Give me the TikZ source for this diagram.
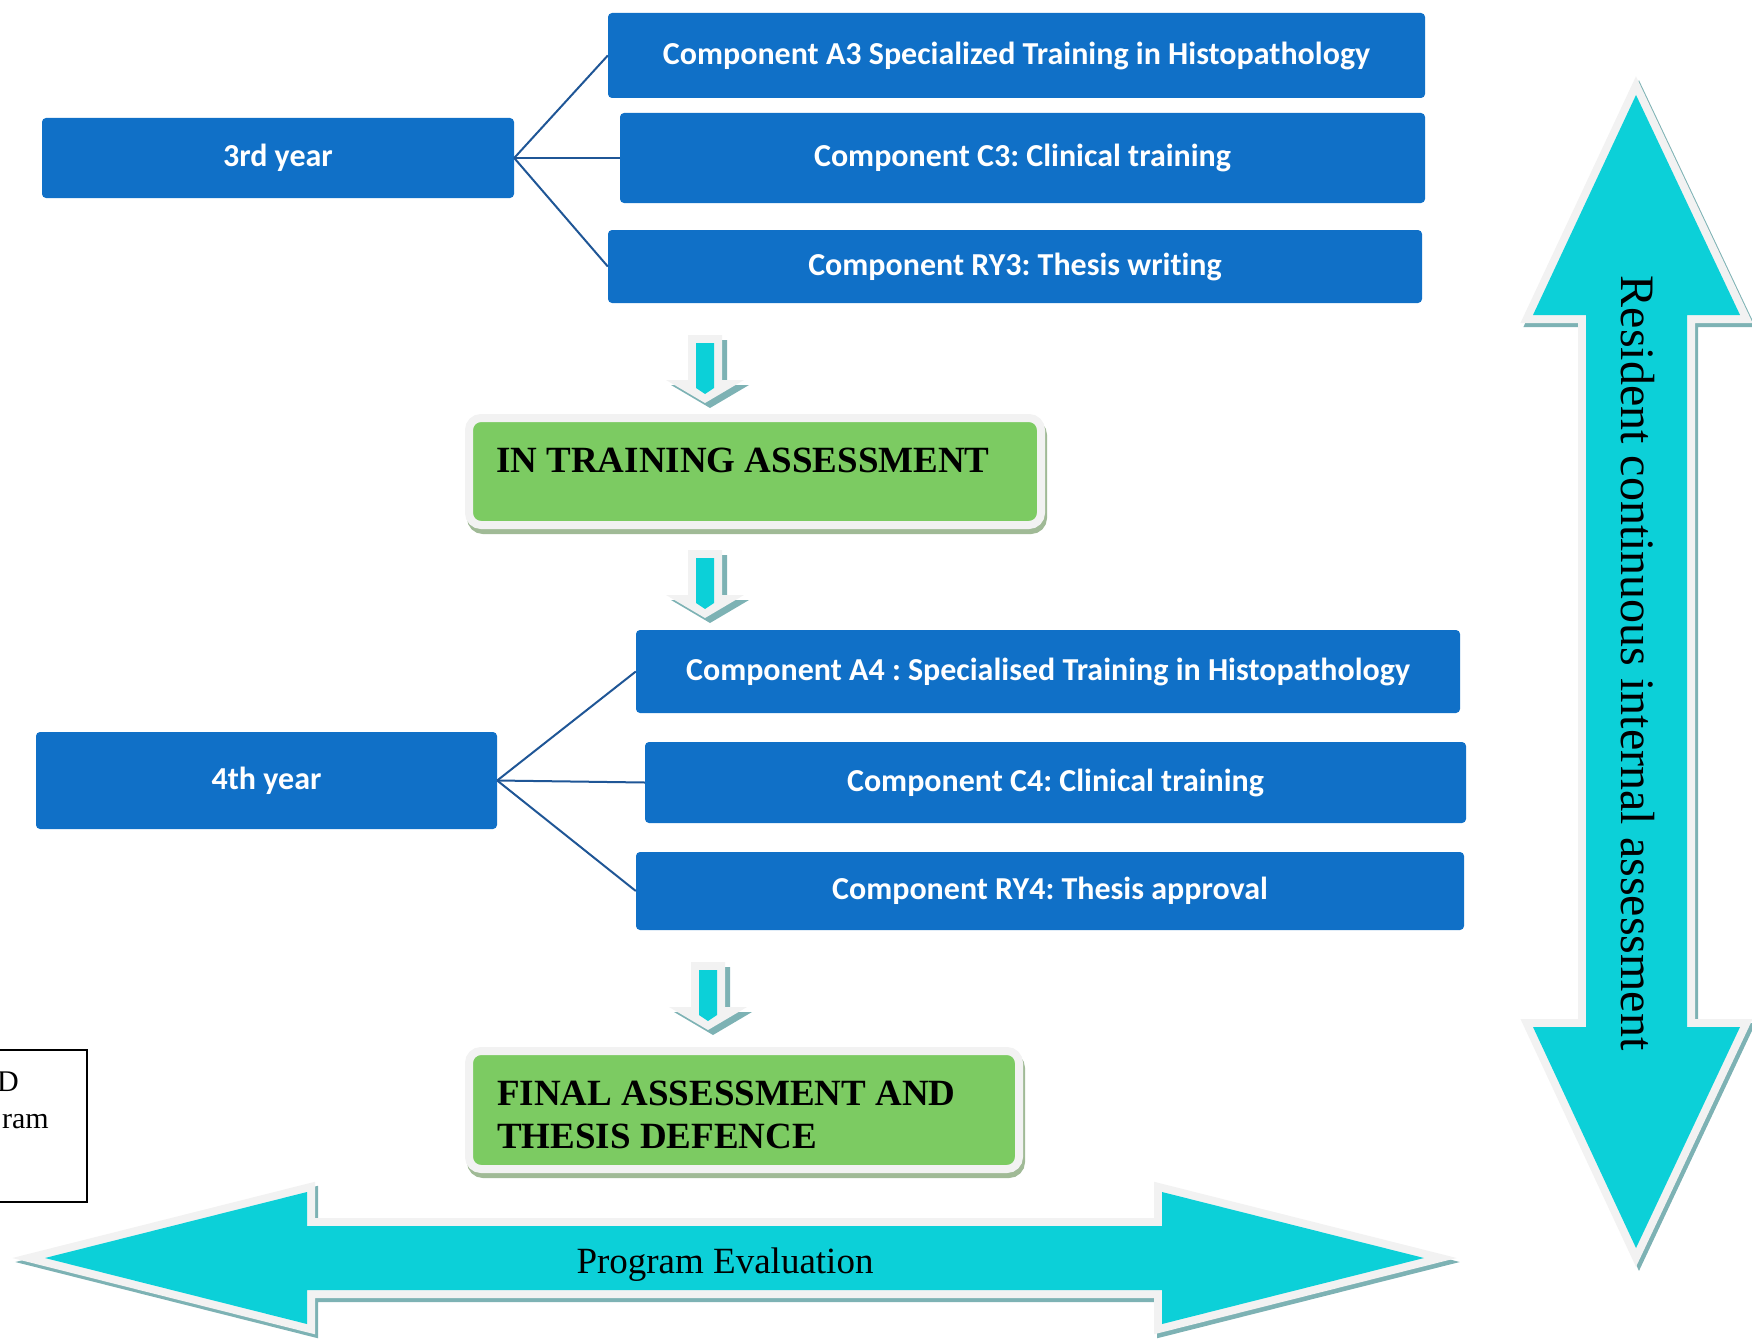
\documentclass[tikz,border=0pt]{standalone}
\usepackage{fontspec}
\setmainfont{Liberation Serif}
\newfontfamily\boxfont{Carlito}[Ligatures=NoCommon]
\usetikzlibrary{calc}
\frenchspacing

\definecolor{boxblue}{RGB}{16,112,199}
\definecolor{linkblue}{RGB}{31,86,150}
\definecolor{greenfill}{RGB}{124,203,98}
\definecolor{greenshade}{RGB}{160,186,150}
\definecolor{arrowcyan}{RGB}{12,208,216}
\definecolor{arrowedge}{RGB}{242,242,242}
\definecolor{arrowshade}{RGB}{125,178,180}

\tikzset{
  yearbox/.style={fill=boxblue, rounded corners=4pt, text=white, inner sep=0pt,
    font=\boxfont\bfseries\fontsize{32}{38}\selectfont},
  link/.style={draw=linkblue, line width=2pt},
  greenbox/.style={fill=greenfill, draw=arrowedge, line width=8pt, rounded corners=12pt,
    preaction={fill=greenshade, draw=greenshade, line width=8pt, transform canvas={shift={(2pt,-5pt)}}}},
  greentext/.style={inner sep=0pt, align=left, font=\bfseries\fontsize{37}{43}\selectfont},
  bigtext/.style={inner sep=0pt, font=\fontsize{37}{43}\selectfont},
  harrow/.style={insert path={(45,1258) -- (307,1192) -- (307,1226) -- (1162,1226) -- (1162,1192)
    -- (1424,1258) -- (1162,1324) -- (1162,1290) -- (307,1290) -- (307,1324) -- cycle}},
  varrow/.style={insert path={(1636,95) -- (1740,315) -- (1687,315) -- (1687,1027) -- (1740,1027)
    -- (1636,1248) -- (1533,1027) -- (1586,1027) -- (1586,315) -- (1533,315) -- cycle}},
}

\begin{document}
\begin{tikzpicture}[x=1pt, y=-1pt]
\useasboundingbox (0,0) rectangle (1752,1343);

% years and components
\node[yearbox, minimum width=472pt, minimum height=80pt] (y3) at (278,158) {\raisebox{-2pt}{3rd year}};
\node[yearbox, minimum width=817pt, minimum height=85pt] (a3) at (1016.5,55.5) {\raisebox{-2pt}{Component A3 Specialized Training in Histopathology}};
\node[yearbox, minimum width=805pt, minimum height=90pt] (c3) at (1022.5,158) {\raisebox{-2pt}{Component C3: Clinical training}};
\node[yearbox, minimum width=814pt, minimum height=73pt] (r3) at (1015,266.5) {\raisebox{-2pt}{Component RY3: Thesis writing}};

\node[yearbox, minimum width=461pt, minimum height=97pt] (y4) at (266.5,780.5) {\raisebox{-2pt}{4th year}};
\node[yearbox, minimum width=824pt, minimum height=83pt] (a4) at (1048,671.5) {\raisebox{-2pt}{Component A4 : Specialised Training in Histopathology}};
\node[yearbox, minimum width=821pt, minimum height=81pt] (c4) at (1055.5,782.5) {\raisebox{-2pt}{Component C4: Clinical training}};
\node[yearbox, minimum width=828pt, minimum height=78pt] (r4) at (1050,891) {\raisebox{-2pt}{Component RY4: Thesis approval}};

\foreach \t in {a3, c3, r3} {
  \draw[link] (y3.east) -- (\t.west);
}
\foreach \t in {a4, c4, r4} {
  \draw[link] (y4.east) -- (\t.west);
}

% assessments
\node[greenbox, minimum width=572pt, minimum height=107pt] (itb) at (755,471.5) {};
\node[greentext, anchor=base west] (itbtext) at (496,472) {IN TRAINING ASSESSMENT};
\node[greenbox, minimum width=550pt, minimum height=118pt] (fab) at (744,1110) {};
\node[greentext, anchor=base west] (fabtext) at (497,1148) {FINAL ASSESSMENT AND\\THESIS DEFENCE};

% small down arrows
\foreach \cx/\ty in {705/335, 705/550, 708/962} {
  \begin{scope}[shift={(\cx,\ty)}]
    \fill[arrowshade] (-12,5) -- (22,5) -- (22,50) -- (44,50) -- (5,73) -- (-34,50) -- (-12,50) -- cycle;
    \fill[arrowedge] (-17,0) -- (17,0) -- (17,45) -- (39,45) -- (0,68) -- (-39,45) -- (-17,45) -- cycle;
    \fill[arrowcyan] (-9,8) -- (9,8) -- (9,53) -- (0,59) -- (-9,53) -- cycle;
  \end{scope}
}

% cut box on the left
\draw[fill=white, line width=1.5pt] (-20,1050) rectangle (87,1202);
\node[bigtext, font=\fontsize{30}{36}\selectfont, anchor=base east] (cuttop) at (19,1091) {D};
\node[bigtext, font=\fontsize{30}{36}\selectfont, anchor=base east] (cutbot) at (49,1128) {ram};

% big double arrows
\filldraw[draw=arrowshade, fill=arrowshade, line width=16pt, shift={(3,4)}, harrow];
\filldraw[draw=arrowedge, fill=arrowedge, line width=16pt, harrow];
\fill[arrowcyan, harrow];
\node[bigtext] (evaltext) at (725,1265) {Program Evaluation};

\filldraw[draw=arrowshade, fill=arrowshade, line width=16pt, shift={(3,4)}, varrow];
\filldraw[draw=arrowedge, fill=arrowedge, line width=16pt, varrow];
\fill[arrowcyan, varrow];
\node[bigtext, rotate=-90, font=\fontsize{48}{56}\selectfont] (residtext) at (1638,663) {Resident continuous internal assessment};

\end{tikzpicture}
\end{document}
